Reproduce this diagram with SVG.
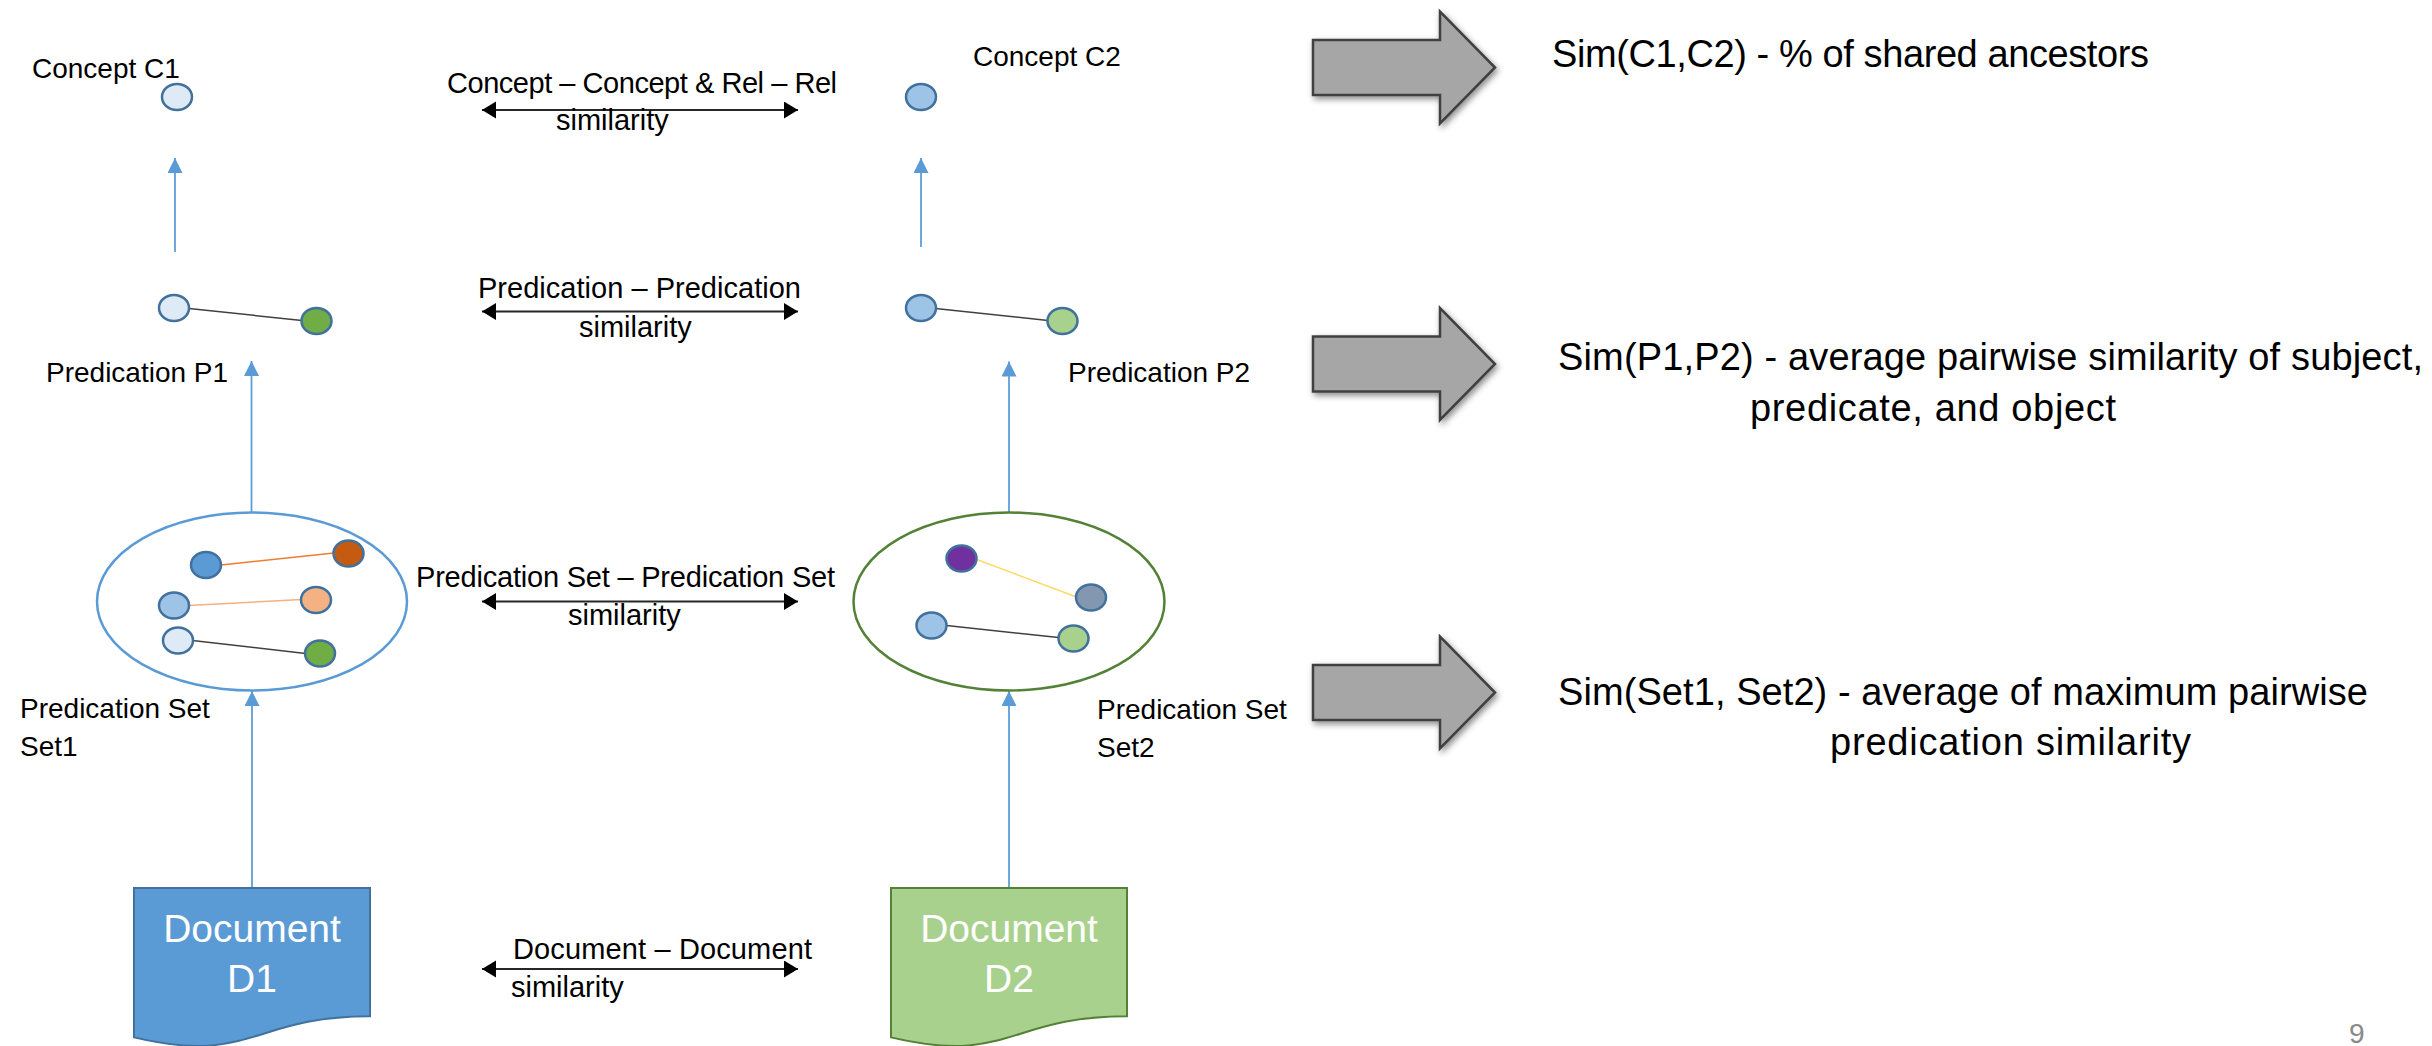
<svg xmlns="http://www.w3.org/2000/svg" xmlns:xlink="http://www.w3.org/1999/xlink" width="2432" height="1046" viewBox="0 0 2432 1046">
  <style>
    text { font-family: "Liberation Sans", Arial, sans-serif; fill: #000; }
    .lbl { font-size: 28px; }
    .mid { font-size: 29px; }
    .rt { font-size: 38px; }
    .doc { font-size: 39px; fill: #fff; text-anchor: middle; }
    .pg { font-size: 28px; fill: #898989; }
    .up { stroke: #5B9BD5; stroke-width: 1.75; fill: none; marker-end: url(#blueHead); }
    .both { stroke: #262626; stroke-width: 2; fill: none; marker-start: url(#blackHead); marker-end: url(#blackHead); }
    .dot { stroke: #41719C; stroke-width: 2.5; }
    .link { stroke: #404040; stroke-width: 1.5; }
    .set1 { fill: none; stroke: #5B9BD5; stroke-width: 2.5; }
    .set2 { fill: none; stroke: #538135; stroke-width: 2.5; }
    .block { fill: #A6A6A6; stroke: #404040; stroke-width: 2.5; stroke-linejoin: miter; filter: url(#shadow); }
  </style>
  <defs>
    <marker id="blueHead" markerUnits="userSpaceOnUse" markerWidth="16" markerHeight="16" refX="15" refY="7.5" orient="auto">
      <path d="M0,0 L15,7.5 L0,15 Z" fill="#5B9BD5"/>
    </marker>
    <marker id="blackHead" markerUnits="userSpaceOnUse" markerWidth="15" markerHeight="18" refX="14" refY="8.5" orient="auto-start-reverse">
      <path d="M0,0 L14,8.5 L0,17 Z" fill="#000"/>
    </marker>
    <filter id="shadow" x="-20%" y="-20%" width="140%" height="150%">
      <feDropShadow dx="2" dy="3" stdDeviation="3" flood-color="#000" flood-opacity="0.45"/>
    </filter>
    <path id="blockArrow" d="M1313,40 H1440 V11.5 L1495,67.5 L1440,123.5 V95 H1313 Z"/>
  </defs>

  <!-- vertical flow and similarity connectors -->
  <g id="connectors">
    <line class="up" x1="175" y1="252" x2="175" y2="158"/>
    <line class="up" x1="921" y1="247" x2="921" y2="158"/>
    <line class="up" x1="251.5" y1="512" x2="251.5" y2="361"/>
    <line class="up" x1="1009" y1="512" x2="1009" y2="361.5"/>
    <line class="up" x1="252" y1="888" x2="252" y2="691"/>
    <line class="up" x1="1009" y1="888" x2="1009" y2="691"/>

    <line class="both" x1="482" y1="110" x2="798" y2="110"/>
    <line class="both" x1="482" y1="311.5" x2="798" y2="311.5"/>
    <line class="both" x1="482" y1="601.5" x2="798" y2="601.5"/>
    <line class="both" x1="482" y1="969" x2="798" y2="969"/>
  </g>

  <!-- concept level -->
  <g id="concept-c1">
    <ellipse class="dot" cx="177" cy="97" rx="15" ry="13" fill="#DEEBF7"/>
    <text class="lbl" x="32" y="78">Concept C1</text>
  </g>
  <g id="concept-c2">
    <ellipse class="dot" cx="921" cy="97" rx="15" ry="13" fill="#9DC3E6"/>
    <text class="lbl" x="973" y="66">Concept C2</text>
  </g>

  <!-- predication level -->
  <g id="predication-p1">
    <line class="link" x1="189" y1="308.5" x2="302" y2="320.5"/>
    <ellipse class="dot" cx="174" cy="308" rx="15" ry="13" fill="#DEEBF7"/>
    <ellipse class="dot" cx="316.5" cy="321" rx="15" ry="13" fill="#70AD47"/>
    <text class="lbl" x="46" y="382">Predication P1</text>
  </g>
  <g id="predication-p2">
    <line class="link" x1="935.5" y1="308.5" x2="1048" y2="320.5"/>
    <ellipse class="dot" cx="921" cy="308" rx="15" ry="13" fill="#9DC3E6"/>
    <ellipse class="dot" cx="1062.5" cy="321" rx="15" ry="13" fill="#A9D18E"/>
    <text class="lbl" x="1068" y="382">Predication P2</text>
  </g>

  <!-- predication set level -->
  <g id="predication-set1">
    <ellipse class="set1" cx="252" cy="601.5" rx="155" ry="89"/>
    <line stroke="#ED7D31" stroke-width="1.5" x1="221" y1="565" x2="334" y2="553"/>
    <line stroke="#F4B183" stroke-width="1.5" x1="188.5" y1="605.5" x2="301.5" y2="599.5"/>
    <line class="link" x1="192.5" y1="640.5" x2="305.5" y2="653.5"/>
    <ellipse class="dot" cx="206" cy="565" rx="15" ry="13" fill="#5B9BD5"/>
    <ellipse class="dot" cx="348.5" cy="553.5" rx="15" ry="13" fill="#C55A11"/>
    <ellipse class="dot" cx="174" cy="605.5" rx="15" ry="13" fill="#9DC3E6"/>
    <ellipse class="dot" cx="316" cy="600" rx="15" ry="13" fill="#F4B183"/>
    <ellipse class="dot" cx="178" cy="640.5" rx="15" ry="13" fill="#DEEBF7"/>
    <ellipse class="dot" cx="320" cy="653.5" rx="15" ry="13" fill="#70AD47"/>
    <text class="lbl" x="20" y="718">Predication Set</text>
    <text class="lbl" x="20" y="756">Set1</text>
  </g>
  <g id="predication-set2">
    <ellipse class="set2" cx="1009" cy="601.5" rx="155.5" ry="89"/>
    <line stroke="#FFD966" stroke-width="1.5" x1="975.5" y1="559" x2="1076.5" y2="597"/>
    <line class="link" x1="946.5" y1="625.5" x2="1058.5" y2="637.5"/>
    <ellipse class="dot" cx="961.5" cy="558.5" rx="15" ry="13" fill="#7030A0"/>
    <ellipse class="dot" cx="1091" cy="597.5" rx="15" ry="13" fill="#8497B0"/>
    <ellipse class="dot" cx="931.5" cy="625.5" rx="15" ry="13" fill="#9DC3E6"/>
    <ellipse class="dot" cx="1073.5" cy="638.5" rx="15" ry="13" fill="#A9D18E"/>
    <text class="lbl" x="1097" y="719">Predication Set</text>
    <text class="lbl" x="1097" y="757">Set2</text>
  </g>

  <!-- documents -->
  <g id="document-d1">
    <path d="M134,888 H370 V1016.3 C252,1016.3 252,1065.2 134,1037.4 Z" fill="#5B9BD5" stroke="#41719C" stroke-width="2"/>
    <text class="doc" x="252" y="942">Document</text>
    <text class="doc" x="252" y="992">D1</text>
  </g>
  <g id="document-d2">
    <path d="M891,888 H1127 V1016.3 C1009,1016.3 1009,1065.2 891,1037.4 Z" fill="#A9D18E" stroke="#538135" stroke-width="2"/>
    <text class="doc" x="1009" y="942">Document</text>
    <text class="doc" x="1009" y="992">D2</text>
  </g>

  <!-- similarity labels between the two columns -->
  <g id="similarity-labels">
    <text class="mid" x="447" y="93" textLength="390">Concept – Concept &amp; Rel – Rel</text>
    <text class="mid" x="556" y="130">similarity</text>
    <text class="mid" x="478" y="298" textLength="323">Predication – Predication</text>
    <text class="mid" x="579" y="337">similarity</text>
    <text class="mid" x="416" y="587" textLength="419">Predication Set – Predication Set</text>
    <text class="mid" x="568" y="625">similarity</text>
    <text class="mid" x="513" y="959" textLength="299">Document – Document</text>
    <text class="mid" x="511" y="997">similarity</text>
  </g>

  <!-- block arrows with the measure definitions -->
  <g id="measure-concept">
    <use xlink:href="#blockArrow" class="block"/>
    <text class="rt" x="1552" y="67" textLength="597">Sim(C1,C2) - % of shared ancestors</text>
  </g>
  <g id="measure-predication">
    <use xlink:href="#blockArrow" class="block" transform="translate(0,296.5)"/>
    <text class="rt" x="1558" y="370" textLength="865">Sim(P1,P2) - average pairwise similarity of subject,</text>
    <text class="rt" x="1750" y="421" textLength="366">predicate, and object</text>
  </g>
  <g id="measure-set">
    <use xlink:href="#blockArrow" class="block" transform="translate(0,625)"/>
    <text class="rt" x="1558" y="705" textLength="810">Sim(Set1, Set2) - average of maximum pairwise</text>
    <text class="rt" x="1830" y="755" textLength="361">predication similarity</text>
  </g>

  <text class="pg" x="2349" y="1043">9</text>
</svg>
